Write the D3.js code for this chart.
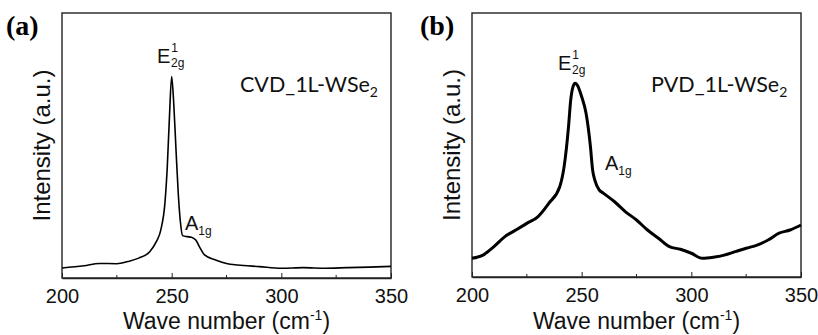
<!DOCTYPE html>
<html lang="en">
    <head>
        <meta charset="utf-8">
        <title>Raman spectra of 1L-WSe2</title>
        <script type="text/javascript" src="https://cdn.jsdelivr.net/npm/d3@7"></script>
        <style>
            body { margin: 0; background: #fff; }
        </style>
    </head>
    <body>
        <script type="text/javascript">
            // spectra (intensity in arbitrary units, 0-100 = plot height)
            var cvdWave = [200,210,217,225,230,235,240,243,245,247,248,249,250,251,252,253,254,255,257,259,261,263,265,270,275,280,290,300,310,320,330,340,350];
            var cvdIntensity = [3.8,4.6,5.5,5.4,6.2,7.5,9.9,13.7,18,29,42,61,76,65,48,32,21,16,15.6,15.4,14.3,11.3,8.7,6.8,5.5,4.9,4.3,3.7,3.9,3.7,3.9,4.1,4.4];

            var pvdWave = [200,205,210,215,220,225,230,235,240,242,244,245,246,247,248,250,252,254,255,256,258,260,265,270,275,280,285,290,295,300,305,310,315,320,325,330,335,340,345,350];
            var pvdIntensity = [7.1,8.3,11.5,15.3,17.8,20.3,22.8,27.9,34.2,41.8,56.9,67,71.9,73.4,72.7,68.3,62,49.4,40.5,36.7,33,31.7,28.5,24.7,21.6,17.8,14.7,11.5,10.5,9,7.1,7.5,8.3,9.6,10.9,12.1,14,16.6,17.8,19.7];

            var majorTicks = [200, 250, 300, 350];
            var minorTicks = [225, 275, 325];

            var w = 818, h = 335;
            var svg = d3.select("body").append("svg").attr("width", w).attr("height", h);

            function drawPanel(p) {
                var x = d3.scaleLinear().domain([200, 350]).range([p.left, p.right]);
                var y = d3.scaleLinear().domain([0, 100]).range([p.bottom, p.top]);
                var g = svg.append("g");

                // frame
                g.append("rect")
                    .attr("x", p.left).attr("y", p.top)
                    .attr("width", p.right - p.left).attr("height", p.bottom - p.top)
                    .attr("fill", "none").attr("stroke", "#222").attr("stroke-width", 1.4);

                var xaxis = d3.axisBottom(x).tickValues(majorTicks).tickSizeInner(-5).tickSizeOuter(0).tickPadding(11);
                var ax = g.append("g").attr("transform", "translate(0," + p.bottom + ")").call(xaxis);
                ax.select(".domain").attr("stroke", "#222").attr("stroke-width", 1.6);
                ax.selectAll(".tick line").attr("stroke", "#222");
                ax.selectAll("text").attr("font-family", "Liberation Sans, Arial, sans-serif")
                    .attr("font-size", 20).attr("fill", "#111");
                g.selectAll(".minor").data(minorTicks).enter().append("line")
                    .attr("x1", function(d) { return x(d); }).attr("x2", function(d) { return x(d); })
                    .attr("y1", p.bottom).attr("y2", p.bottom - 3)
                    .attr("stroke", "#222");

                var line = d3.line()
                    .x(function(d) { return x(d[0]); })
                    .y(function(d) { return y(d[1]); })
                    .curve(d3.curveMonotoneX);
                g.append("path")
                    .datum(d3.zip(p.wave, p.values))
                    .attr("d", line)
                    .attr("fill", "none").attr("stroke", "#000")
                    .attr("stroke-width", p.lineWidth).attr("stroke-linejoin", "round");

                // axis titles
                g.append("text")
                    .attr("transform", "translate(" + p.ylabelX + "," + ((p.top + p.bottom) / 2 + 0) + ") rotate(-90)")
                    .attr("text-anchor", "middle")
                    .attr("font-family", "Liberation Sans, Arial, sans-serif").attr("font-size", 24)
                    .attr("fill", "#111")
                    .text("Intensity (a.u.)");
                var xt = g.append("text")
                    .attr("x", (p.left + p.right) / 2).attr("y", 329)
                    .attr("text-anchor", "middle")
                    .attr("font-family", "Liberation Sans, Arial, sans-serif").attr("font-size", 23)
                    .attr("fill", "#111");
                xt.append("tspan").text("Wave number (cm");
                xt.append("tspan").attr("font-size", 14).attr("dy", -9).text("-1");
                xt.append("tspan").attr("dy", 9).text(")");

                // panel letter
                g.append("text")
                    .attr("x", p.letterX).attr("y", 35)
                    .attr("font-family", "Liberation Serif, Times New Roman, serif")
                    .attr("font-weight", "bold").attr("font-size", 28)
                    .text(p.letter);

                // peak labels
                var e = g.append("text").attr("x", p.eX).attr("y", p.eY)
                    .attr("font-family", "Liberation Sans, Arial, sans-serif").attr("font-size", 20).attr("fill", "#111");
                e.append("tspan").text("E");
                e.append("tspan").attr("font-size", 12).attr("dy", -11).attr("dx", 1).text("1");
                e.append("tspan").attr("font-size", 12).attr("dx", -7).attr("dy", 15).text("2g");

                var a = g.append("text").attr("x", p.aX).attr("y", p.aY)
                    .attr("font-family", "Liberation Sans, Arial, sans-serif").attr("font-size", 20).attr("fill", "#111");
                a.append("tspan").text("A");
                a.append("tspan").attr("font-size", 12).attr("dy", 5).text("1g");

                var s = g.append("text").attr("x", p.sampleX).attr("y", p.sampleY)
                    .attr("font-family", "Lato, Open Sans, sans-serif").attr("font-size", 21.5).attr("fill", "#111");
                s.append("tspan").text(p.sample);
                s.append("tspan").attr("font-size", 14).attr("dy", 5).text("2");
            }

            drawPanel({
                left: 62, right: 391, top: 13, bottom: 278,
                wave: cvdWave, values: cvdIntensity, lineWidth: 1.6,
                ylabelX: 50, letter: "(a)", letterX: 6,
                eX: 157, eY: 63, aX: 185, aY: 230,
                sample: "CVD_1L-WSe", sampleX: 240, sampleY: 92
            });
            drawPanel({
                left: 472, right: 801, top: 13, bottom: 277,
                wave: pvdWave, values: pvdIntensity, lineWidth: 3,
                ylabelX: 460, letter: "(b)", letterX: 420,
                eX: 558, eY: 70, aX: 605, aY: 170,
                sample: "PVD_1L-WSe", sampleX: 651, sampleY: 92
            });
        </script>
    </body>
</html>
